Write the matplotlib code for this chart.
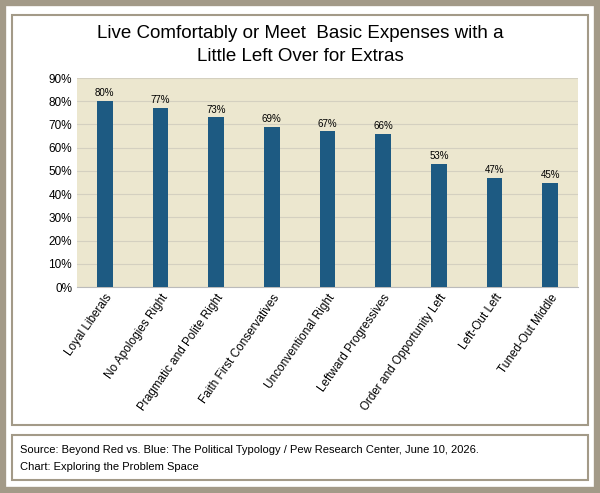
import matplotlib.pyplot as plt
from matplotlib.patches import Rectangle

plt.rcParams['font.family'] = ['Liberation Sans', 'DejaVu Sans']

categories = ['Loyal Liberals', 'No Apologies Right', 'Pragmatic and Polite Right',
              'Faith First Conservatives', 'Unconventional Right', 'Leftward Progressives',
              'Order and Opportunity Left', 'Left-Out Left', 'Tuned-Out Middle']
values = [80, 77, 73, 69, 67, 66, 53, 47, 45]

W, H = 600, 493
fig = plt.figure(figsize=(6, 4.93), dpi=100)

# outer frame
fig.patches.append(Rectangle((0.004, 0.004), 0.992, 0.992, transform=fig.transFigure,
                             fill=False, edgecolor='#a39a88', linewidth=6))
fig.patches.append(Rectangle((12 / W, 1 - 480 / H), 576 / W, 45 / H, transform=fig.transFigure,
                             fill=False, edgecolor='#a39a88', linewidth=1.5))
fig.patches.append(Rectangle((12 / W, 1 - 425 / H), 576 / W, 410 / H, transform=fig.transFigure,
                             fill=False, edgecolor='#a39a88', linewidth=1.5))

fig.text(0.5, 1 - 45 / H, 'Live Comfortably or Meet  Basic Expenses with a\nLittle Left Over for Extras',
         ha='center', va='center', fontsize=13.5, linespacing=1.5)

ax = fig.add_axes([77 / W, 1 - 287 / H, 501 / W, 209 / H])
ax.set_facecolor('#ece7cf')
x = range(len(categories))
bars = ax.bar(x, values, width=0.28, color='#1d5a82', zorder=3)
for b, v in zip(bars, values):
    ax.text(b.get_x() + b.get_width() / 2, v + 1.2, f'{v}%', ha='center', va='bottom', fontsize=7)
ax.set_ylim(0, 90)
ax.set_yticks(range(0, 91, 10))
ax.set_yticklabels([f'{t}%' for t in range(0, 91, 10)], fontsize=8.5)
ax.set_xlim(-0.5, len(categories) - 0.5)
ax.set_xticks(list(x))
ax.set_xticklabels(categories, rotation=55, ha='right', rotation_mode='anchor', fontsize=8.5)
ax.grid(axis='y', color='#d4d0c0', linewidth=0.8, zorder=0)
ax.tick_params(length=0)
for s in ['top', 'right', 'left']:
    ax.spines[s].set_visible(False)
ax.spines['bottom'].set_color('#bbbbbb')

fig.text(20 / W, 1 - 450 / H,
         'Source: Beyond Red vs. Blue: The Political Typology / Pew Research Center, June 10, 2026.',
         ha='left', va='center', fontsize=8)
fig.text(20 / W, 1 - 467 / H, 'Chart: Exploring the Problem Space', ha='left', va='center', fontsize=8)

fig.savefig('out.png', dpi=100)
